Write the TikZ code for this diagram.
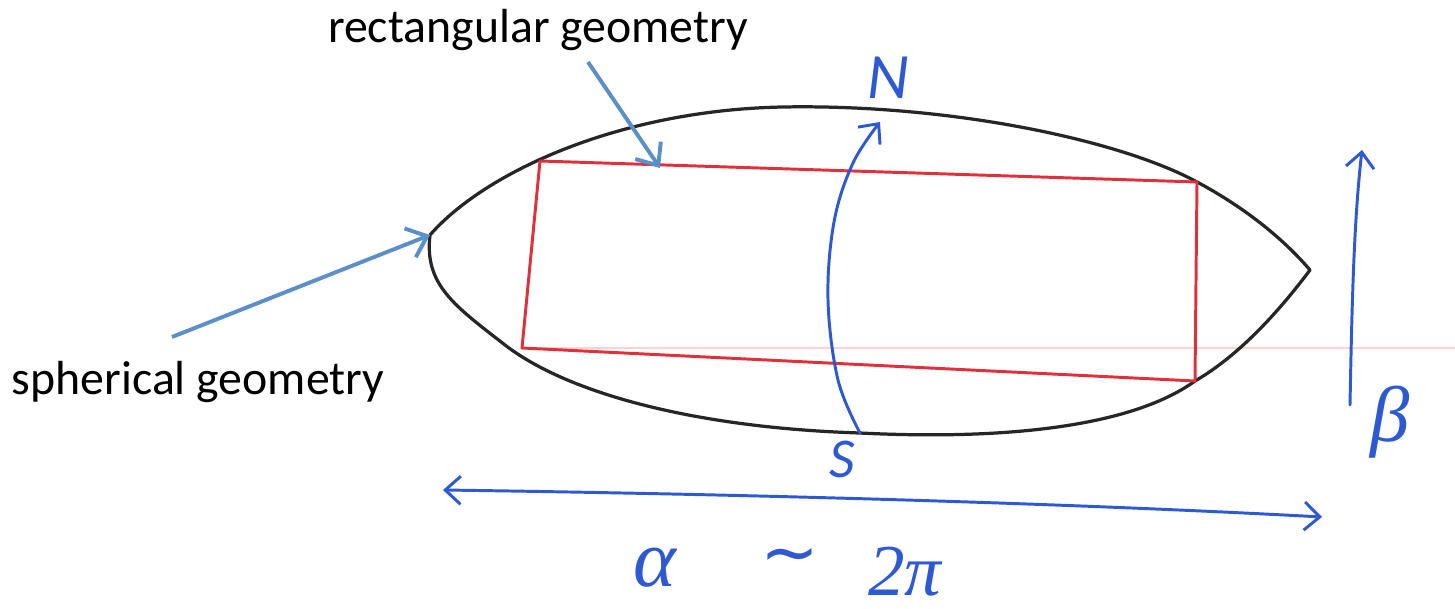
\documentclass[tikz,border=0pt]{standalone}
\usepackage{fontspec}
\setmainfont{Carlito}
\newfontfamily\greekfont{Liberation Serif}
\newfontfamily\symfont{DejaVu Sans}
\usepackage{xcolor}
\usetikzlibrary{arrows.meta, positioning}
\definecolor{penblue}{HTML}{2D5AD2}
\definecolor{calloutblue}{HTML}{5B8FC9}
\definecolor{penred}{HTML}{E0303C}
\tikzstyle{arrow} = [line width=2.1pt, penblue, line cap=round, -{Straight Barb[length=11pt,width=20pt]}]
\tikzstyle{callout} = [line width=2.8pt, calloutblue, -{Straight Barb[length=13pt,width=22pt]}]

\begin{document}
\begin{tikzpicture}[x=0.025cm, y=-0.025cm]
    \tikzstyle{outline} = [line width=2.3pt, black!85, line join=round]
    \tikzstyle{redbox} = [line width=2.1pt, penred, line join=round]
    \tikzstyle{label} = [font=\fontsize{34}{40}\selectfont, inner sep=0pt]
    \tikzstyle{hand} = [text=penblue, inner sep=0pt]

    \useasboundingbox (0,0) rectangle (1455,609);

    \coordinate (west) at (430,235);
    \coordinate (east) at (1310,270);
    \coordinate (nw) at (540,161);
    \coordinate (ne) at (1197,182);
    \coordinate (se) at (1195,381);
    \coordinate (sw) at (522,348);
    \coordinate (south) at (860,433);
    \coordinate (north) at (880,122);

    \draw[pink!70, line width=1.2pt] (sw) -- (1455,348);

    \draw[outline] (west) .. controls (485,172) and (620,110) .. (783,107)
        .. controls (950,104) and (1120,140) .. (ne)
        .. controls (1240,205) and (1280,235) .. (east)
        .. controls (1280,310) and (1240,355) .. (se)
        .. controls (1130,428) and (1000,440) .. (south)
        .. controls (700,428) and (570,395) .. (505,345)
        .. controls (455,306) and (424,285) .. (west);

    \draw[redbox] (nw) -- (ne) -- (se) -- (sw) -- cycle;

    \draw[arrow] plot[smooth, tension=0.6] coordinates {(south) (838,380) (828,300) (834,222) (853,163) (north)};
    \node[hand, font=\fontsize{46}{50}\selectfont\itshape] (nlab) at (888,78) {N};
    \node[hand, font=\fontsize{40}{44}\selectfont\itshape] (slab) at (842,459) {S};

    \coordinate (btail) at (1350,405);
    \coordinate (bhead) at (1362,150);
    \draw[arrow] (btail) .. controls (1352,300) and (1354,220) .. (bhead);
    \node[hand, font=\fontsize{56}{60}\selectfont\greekfont\itshape] (blab) at (1390,422) {β};

    \coordinate (aleft) at (443,490);
    \coordinate (aright) at (1322,517);
    \draw[arrow, {Straight Barb[length=11pt,width=20pt]}-{Straight Barb[length=11pt,width=20pt]}] (aleft) .. controls (800,495) and (1100,505) .. (aright);
    \node[hand, font=\fontsize{58}{62}\selectfont\greekfont\itshape] (alab) at (655,568) {α};
    \node[hand, font=\fontsize{50}{54}\selectfont\symfont] (sim) at (790,562) {∼};
    \node[hand, font=\fontsize{52}{56}\selectfont\greekfont\itshape] (twopi) at (905,572) {2π};

    \node[label] (rect) at (538,30) {rectangular geometry};
    \node[label] (sph) at (198,382) {spherical geometry};
    \coordinate (rtail) at (588,62);
    \coordinate (rhead) at (660,168);
    \coordinate (stail) at (172,337);
    \draw[callout] (rtail) -- (rhead);
    \draw[callout] (stail) -- (west);
\end{tikzpicture}
\end{document}
